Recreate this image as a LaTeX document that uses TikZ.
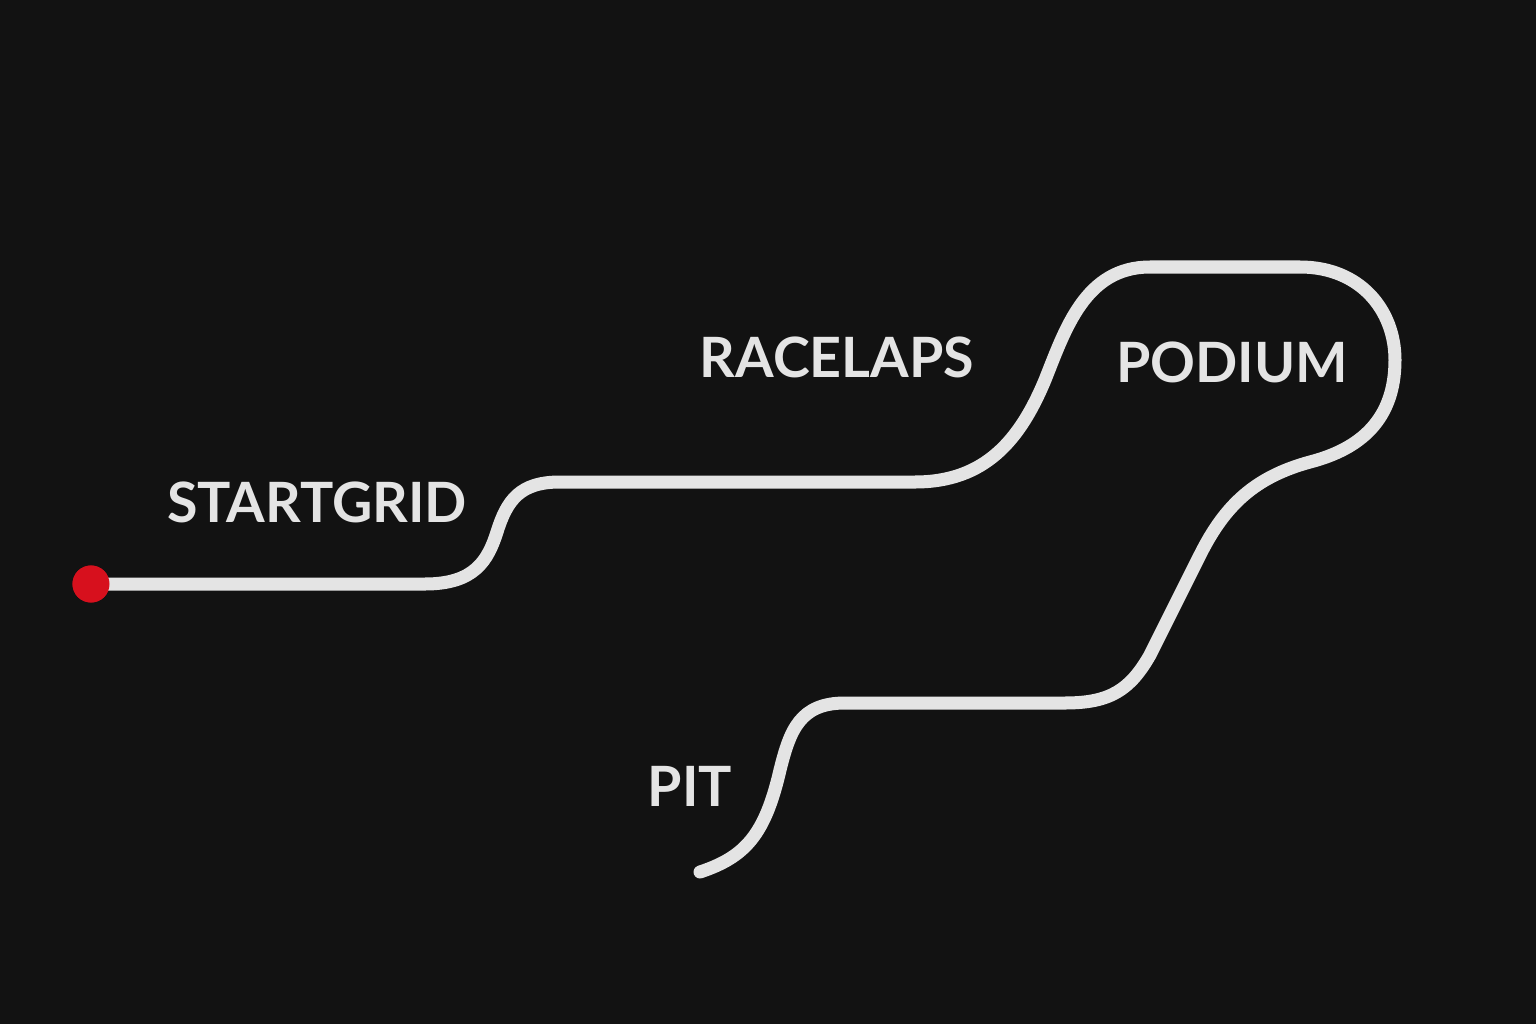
\documentclass[tikz,border=0pt]{standalone}
\usepackage{fontspec}
\setmainfont{Lato}
\usetikzlibrary{positioning}
\definecolor{bgdark}{HTML}{121212}
\definecolor{trackgrey}{HTML}{E4E4E4}
\definecolor{startred}{HTML}{D7101D}
\begin{document}
\begin{tikzpicture}[x=0.01cm,y=-0.01cm,
    track/.style={draw=trackgrey,line width=0.13cm,line cap=round,line join=round},
    stage label/.style={text=trackgrey,font=\fontsize{15.8}{18}\selectfont\bfseries,inner sep=0pt,anchor=base},
    start node/.style={circle,fill=startred,minimum size=0.37cm,inner sep=0pt}]
    \fill[bgdark] (0,0) rectangle (1536,1024);
    \useasboundingbox (0,0) rectangle (1536,1024);

    % points along the circuit
    \coordinate (g1) at (425,584);
    \coordinate (g2) at (497,532);
    \coordinate (r1) at (560,482);
    \coordinate (r2) at (915,482);
    \coordinate (r3) at (1045,380);
    \coordinate (p1) at (1150,267);
    \coordinate (p2) at (1300,267);
    \coordinate (p3) at (1395,360);
    \coordinate (p4) at (1310,462);
    \coordinate (p5) at (1200,555);
    \coordinate (p6) at (1150,655);
    \coordinate (t1) at (1065,703);
    \coordinate (t2) at (845,703);
    \coordinate (t3) at (780,770);
    \coordinate (pitend) at (700,872);
    \node[start node] (grid) at (91,584) {};

    \path[track] (grid.center) -- (g1)
        .. controls (475,584) and (488,560) .. (g2)
        .. controls (507,500) and (520,482) .. (r1) -- (r2)
        .. controls (985,482) and (1020,440) .. (r3)
        .. controls (1065,330) and (1085,267) .. (p1) -- (p2)
        .. controls (1360,267) and (1395,310) .. (p3)
        .. controls (1395,420) and (1360,449) .. (p4)
        .. controls (1255,477) and (1225,505) .. (p5) -- (p6)
        .. controls (1130,690) and (1110,703) .. (t1) -- (t2)
        .. controls (800,703) and (790,730) .. (t3)
        .. controls (765,835) and (745,857) .. (pitend);
    \node[start node] at (grid) {};

    \node[stage label] (startgrid) at (317,522) {STARTGRID};
    \node[stage label] (racelaps) at (837,377) {RACELAPS};
    \node[stage label] (podium) at (1232,382) {PODIUM};
    \node[stage label] (pit) at (690,806) {PIT};
\end{tikzpicture}
\end{document}
